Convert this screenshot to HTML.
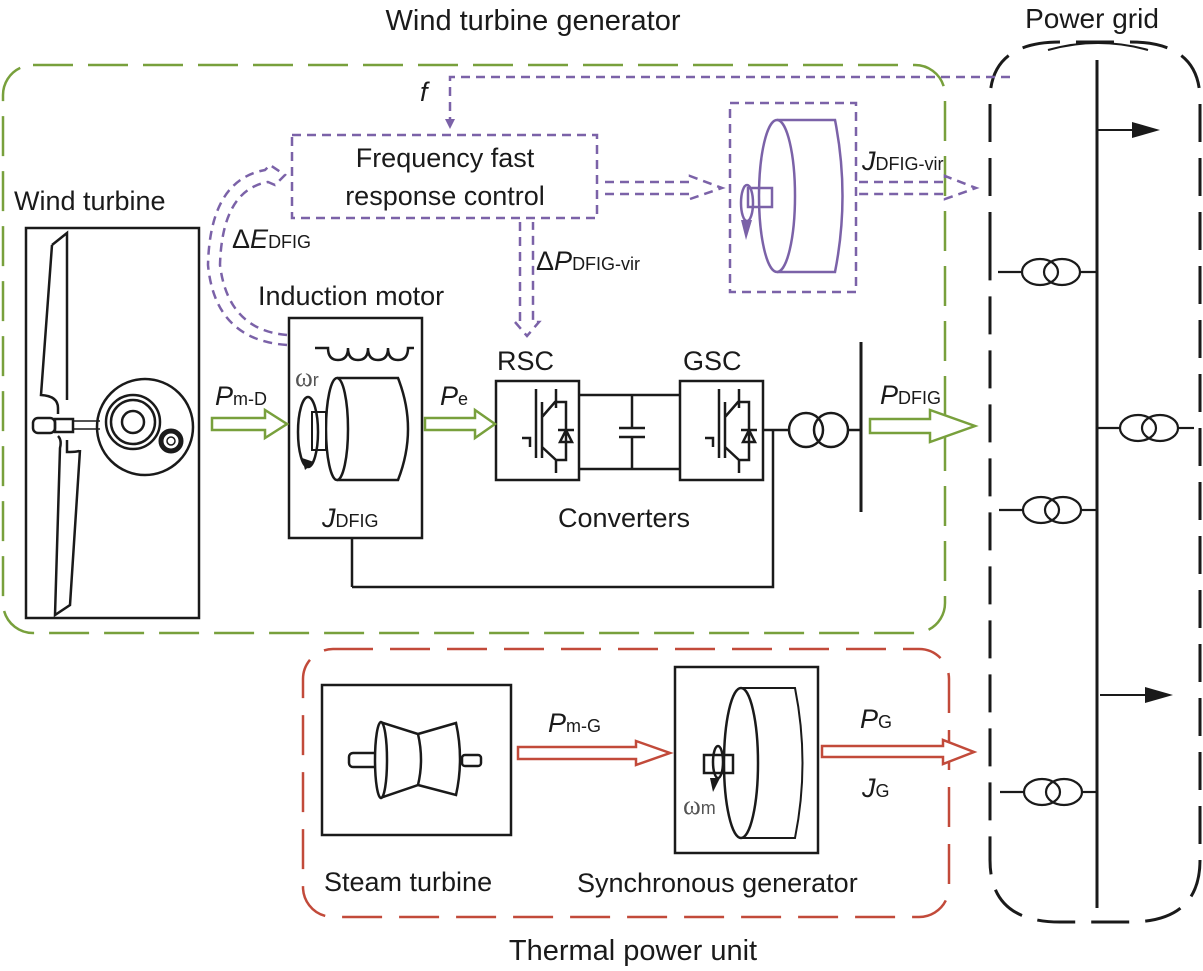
<!DOCTYPE html>
<html><head><meta charset="utf-8"><style>
html,body{margin:0;padding:0;background:#fff;}
svg{display:block;font-family:"Liberation Sans",sans-serif;}
</style></head><body>
<svg width="1203" height="971" viewBox="0 0 1203 971" xmlns="http://www.w3.org/2000/svg">
<defs>
<marker id="ah" markerWidth="10" markerHeight="10" refX="9" refY="5" orient="auto" markerUnits="userSpaceOnUse"><path d="M0,0 L10,5 L0,10 z" fill="#7b62a8"/></marker>
</defs>
<g font-size="27" fill="#1a1a1a">
<text x="533" y="30" text-anchor="middle" font-size="29">Wind turbine generator</text>
<text x="1092" y="28" text-anchor="middle" font-size="28">Power grid</text>
<text x="633" y="960" text-anchor="middle" font-size="29">Thermal power unit</text>
<text x="14" y="210">Wind turbine</text>
<text x="258" y="305">Induction motor</text>
<text x="497" y="370">RSC</text>
<text x="683" y="370">GSC</text>
<text x="558" y="527">Converters</text>
<text x="324" y="891">Steam turbine</text>
<text x="577" y="892">Synchronous generator</text>
<text x="445" y="167" text-anchor="middle">Frequency fast</text>
<text x="445" y="205" text-anchor="middle">response control</text>
<text x="420" y="101" font-style="italic">f</text>
<text x="232" y="248">Δ<tspan font-style="italic">E</tspan><tspan font-size="18">DFIG</tspan></text>
<text x="536" y="270">Δ<tspan font-style="italic">P</tspan><tspan font-size="18">DFIG-vir</tspan></text>
<text x="862" y="170"><tspan font-style="italic">J</tspan><tspan font-size="18">DFIG-vir</tspan></text>
<text x="215" y="405"><tspan font-style="italic">P</tspan><tspan font-size="18">m-D</tspan></text>
<text x="440" y="405"><tspan font-style="italic">P</tspan><tspan font-size="18">e</tspan></text>
<text x="880" y="404"><tspan font-style="italic">P</tspan><tspan font-size="18">DFIG</tspan></text>
<text x="322" y="527"><tspan font-style="italic">J</tspan><tspan font-size="18">DFIG</tspan></text>
<text x="548" y="732"><tspan font-style="italic">P</tspan><tspan font-size="18">m-G</tspan></text>
<text x="860" y="728"><tspan font-style="italic">P</tspan><tspan font-size="18">G</tspan></text>
<text x="862" y="797"><tspan font-style="italic">J</tspan><tspan font-size="18">G</tspan></text>
<text x="295" y="386" fill="#555" font-family="Liberation Serif,serif">ω<tspan font-size="18" font-family="Liberation Sans,sans-serif">r</tspan></text>
<text x="683" y="814" fill="#555" font-family="Liberation Serif,serif">ω<tspan font-size="18" font-family="Liberation Sans,sans-serif">m</tspan></text>
</g>

<!-- group boxes -->
<rect x="3" y="65" width="942" height="568" rx="30" fill="none" stroke="#78a03c" stroke-width="2.5" stroke-dasharray="40 15"/>
<rect x="303" y="649" width="646" height="268" rx="30" fill="none" stroke="#c24a3a" stroke-width="2.5" stroke-dasharray="40 17"/>

<!-- power grid -->
<g stroke="#1a1a1a" stroke-width="2.5" fill="none">
<path d="M990,250 L990,100 Q990,42 1060,42 L1130,42 Q1200,42 1200,100 L1200,860 Q1200,922 1130,922 L1060,922 Q990,922 990,860 Z" stroke-width="3" stroke-dasharray="38 16"/>
<path d="M1048,50 Q1098,36 1148,50" stroke-width="2"/>
<line x1="1097" y1="60" x2="1097" y2="908" stroke-width="3"/>
<line x1="1097" y1="130" x2="1140" y2="130" stroke-width="2"/>
<line x1="1100" y1="695" x2="1150" y2="695" stroke-width="2"/>
</g>
<path d="M1132,122 L1160,130 L1132,138 z" fill="#1a1a1a"/>
<path d="M1145,687 L1173,695 L1145,703 z" fill="#1a1a1a"/>
<g stroke="#1a1a1a" stroke-width="2.2" fill="none">
<line x1="998" y1="272" x2="1022" y2="272"/><ellipse cx="1040" cy="272" rx="18" ry="13"/><ellipse cx="1062" cy="272" rx="18" ry="13"/><line x1="1080" y1="272" x2="1097" y2="272"/>
<line x1="999" y1="510" x2="1023" y2="510"/><ellipse cx="1041" cy="510" rx="18" ry="13"/><ellipse cx="1063" cy="510" rx="18" ry="13"/><line x1="1081" y1="510" x2="1097" y2="510"/>
<line x1="1000" y1="792" x2="1024" y2="792"/><ellipse cx="1042" cy="792" rx="18" ry="13"/><ellipse cx="1064" cy="792" rx="18" ry="13"/><line x1="1082" y1="792" x2="1097" y2="792"/>
<line x1="1097" y1="428" x2="1120" y2="428"/><ellipse cx="1138" cy="428" rx="18" ry="13"/><ellipse cx="1160" cy="428" rx="18" ry="13"/><line x1="1178" y1="428" x2="1194" y2="428"/>
</g>

<!-- wind turbine -->
<g stroke="#1a1a1a" stroke-width="2.5" fill="none">
<rect x="26" y="228" width="173" height="390"/>
<path d="M52,245 L67,233 L67,400 M52,245 L41,395 Q58,396 58,408 L58,414 M67,440 L67,452 Q80,452 80,450 L70,605 L55,615 L60,448 Q62,440 58,436"/>
<rect x="33" y="418" width="22" height="15" rx="5"/>
<rect x="55" y="419" width="18" height="13"/>
<line x1="73" y1="421" x2="100" y2="421" stroke-width="1.5"/><line x1="73" y1="429" x2="100" y2="429" stroke-width="1.5"/>
<circle cx="145" cy="427" r="48"/>
<circle cx="133" cy="422" r="27"/><circle cx="133" cy="422" r="22"/><circle cx="133" cy="422" r="11"/>
<circle cx="171" cy="441" r="10" stroke-width="5"/><circle cx="171" cy="441" r="4" stroke-width="1.5"/>
</g>

<!-- induction motor -->
<g stroke="#1a1a1a" stroke-width="2.5" fill="none">
<rect x="289" y="318" width="133" height="220"/>
<path d="M315,348 L328,348 Q328,360 338,360 Q348,360 348,348 Q348,360 358,360 Q368,360 368,348 Q368,360 378,360 Q388,360 388,348 Q388,360 398,360 Q408,360 408,348 L414,348"/>
<line x1="352" y1="538" x2="352" y2="587"/><polyline points="352,587 773,587 773,430"/>
<path d="M337,378 L398,378 Q418,429 398,480 L337,480"/>
<ellipse cx="337" cy="429" rx="11" ry="51" fill="#fff"/>
<rect x="312" y="412" width="14" height="38" fill="#fff" stroke-width="2"/>
<ellipse cx="308" cy="432" rx="10" ry="35"/>
</g>
<path d="M302,458 L314,462 L305,470 z" fill="#1a1a1a"/>

<!-- converters -->
<g stroke="#1a1a1a" stroke-width="2.5" fill="none">
<rect x="496" y="381" width="83" height="99"/>
<rect x="680" y="381" width="83" height="99"/>
<line x1="579" y1="395" x2="680" y2="395"/><line x1="579" y1="469" x2="680" y2="469"/>
<line x1="632" y1="395" x2="632" y2="428"/><line x1="632" y1="437" x2="632" y2="469"/>
<line x1="619" y1="428" x2="645" y2="428"/><line x1="619" y1="437" x2="645" y2="437"/>
<path d="M536,389 L536,458 M542,402 L542,458 M542,417 L555,402 L566,402 L566,460 L556,460 L542,447 M556,460 L556,473 M522,438 L530,438 L530,447 M556,408 L556,389 M558,430 L574,430 M560,442 L572,442 L566,430 z"/>
<g transform="translate(183,0)"><path d="M536,389 L536,458 M542,402 L542,458 M542,417 L555,402 L566,402 L566,460 L556,460 L542,447 M556,460 L556,473 M522,438 L530,438 L530,447 M556,408 L556,389 M558,430 L574,430 M560,442 L572,442 L566,430 z"/></g>
<line x1="763" y1="430" x2="789" y2="430"/>
<circle cx="806" cy="430" r="17"/><circle cx="831" cy="430" r="17"/>
<line x1="848" y1="430" x2="861" y2="430"/>
<line x1="861" y1="342" x2="861" y2="512" stroke-width="3"/>
</g>

<!-- green arrows -->
<g stroke="#78a03c" stroke-width="2.5" fill="#fff">
<path d="M212,418 L265,418 L265,410 L287,424 L265,438 L265,430 L212,430 z"/>
<path d="M425,418 L475,418 L475,410 L495,424 L475,438 L475,430 L425,430 z"/>
<path d="M870,419 L930,419 L930,410 L975,426 L930,442 L930,433 L870,433 z"/>
</g>

<!-- purple -->
<g stroke="#7b62a8" stroke-width="2.5" fill="none" stroke-dasharray="9 6">
<rect x="292" y="135" width="305" height="83"/>
<rect x="730" y="103" width="126" height="189"/>
<polyline points="1010,77 450,77 450,128" marker-end="url(#ah)"/>
<path d="M605,182 L690,182 L690,176 L722,188 L690,199 L690,194 L605,194"/>
<path d="M859,182 L945,182 L945,176 L976,188 L945,199 L945,194 L859,194"/>
<path d="M520,222 L520,322 L515,322 L527,336 L539,322 L533,322 L533,222"/>
<path d="M287,345 Q215,340 208,265 Q210,180 265,170 L270,165 L285,175 L275,185 L268,182 Q222,190 220,265 Q228,330 287,335"/>
</g>
<g stroke="#7b62a8" stroke-width="2.5" fill="none">
<path d="M777,120 L835,120 Q850,196 835,272 L777,272"/>
<ellipse cx="777" cy="196" rx="18" ry="76" fill="#fff"/>
<rect x="748" y="188" width="24" height="19"/>
<ellipse cx="747" cy="203" rx="6" ry="18"/>
</g>
<path d="M741,220 L752,220 L746,240 z" fill="#7b62a8"/>

<!-- steam turbine -->
<g stroke="#1a1a1a" stroke-width="2.5" fill="none">
<rect x="322" y="685" width="189" height="150"/>
<rect x="349" y="753" width="30" height="14" rx="4"/>
<rect x="462" y="755" width="19" height="11" rx="3"/>
<path d="M380,722 L418,734 Q424,760 418,785 L380,798 M418,734 L456,723 Q464,759 456,795 L418,785"/>
<ellipse cx="381" cy="760" rx="6" ry="38" fill="#fff"/>
</g>
<g stroke="#c24a3a" stroke-width="2.5" fill="#fff">
<path d="M518,747 L636,747 L636,741 L670,753 L636,765 L636,759 L518,759 z"/>
<path d="M822,746 L943,746 L943,740 L974,752 L943,764 L943,757 L822,757 z"/>
</g>
<!-- sync gen -->
<g stroke="#1a1a1a" stroke-width="2.5" fill="none">
<rect x="675" y="667" width="143" height="186"/>
<path d="M741,688 L795,688 Q810,763 795,838 L741,838" stroke-width="2"/>
<ellipse cx="741" cy="763" rx="17" ry="75" fill="#fff"/>
<rect x="704" y="755" width="29" height="18"/>
<ellipse cx="718" cy="762" rx="5" ry="16"/>
</g>
<path d="M710,778 L720,778 L713,792 z" fill="#1a1a1a"/>
</svg>
</body></html>
